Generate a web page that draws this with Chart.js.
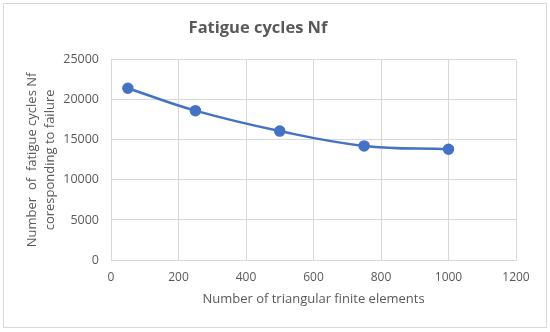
<!DOCTYPE html>
<html>
<head>
<meta charset="utf-8">
<script src="https://cdn.jsdelivr.net/npm/chart.js@4/dist/chart.umd.min.js"></script>
<style>
  html, body { margin: 0; padding: 0; background: #fff; }
</style>
</head>
<body>
<canvas id="fatigueChart" width="550" height="332"></canvas>
<script>
// datos
const elementos = [50, 250, 500, 750, 1000];
const ciclos = [21450, 18650, 16100, 14250, 13830];
const xTicks = [0, 200, 400, 600, 800, 1000, 1200];
const yTicks = [0, 5000, 10000, 15000, 20000, 25000];

const gris = '#595959';
const fuente = "'Open Sans', 'Noto Sans', sans-serif";

// marco exterior del grafico
const marco = {
  id: 'marco',
  beforeDraw(chart) {
    const ctx = chart.ctx;
    ctx.save();
    ctx.fillStyle = '#fff';
    ctx.fillRect(0, 0, chart.width, chart.height);
    ctx.strokeStyle = '#d9d9d9';
    ctx.lineWidth = 1;
    ctx.strokeRect(3.5, 3.5, 543, 324);
    ctx.restore();
  }
};

new Chart(document.getElementById('fatigueChart'), {
  type: 'scatter',
  data: {
    datasets: [{
      label: 'Nf',
      data: elementos.map((x, i) => ({ x: x, y: ciclos[i] })),
      showLine: true,
      borderColor: '#4472C4',
      backgroundColor: '#4472C4',
      borderWidth: 2.5,
      pointRadius: 4.5,
      pointHoverRadius: 4.5,
      tension: 0.4
    }]
  },
  options: {
    responsive: false,
    animation: false,
    layout: { padding: { left: 0, right: 34, top: 0, bottom: 0 } },
    plugins: {
      legend: { display: false },
      tooltip: { enabled: false },
      title: {
        display: true,
        text: 'Fatigue cycles Nf',
        color: gris,
        font: { family: fuente, size: 16.5, weight: 'bold' },
        padding: { top: 18, bottom: 22 }
      }
    },
    scales: {
      x: {
        type: 'linear',
        min: 0,
        max: 1200,
        afterBuildTicks: axis => { axis.ticks = xTicks.map(v => ({ value: v })); },
        afterFit: axis => { axis.height = 72; },
        grid: { color: '#d9d9d9', drawTicks: false },
        border: { color: '#d9d9d9' },
        ticks: {
          color: gris, font: { family: fuente, size: 12 }, padding: 10,
          maxRotation: 0, autoSkip: false, callback: v => String(v)
        },
        title: {
          display: true,
          text: 'Number of triangular finite elements',
          color: gris,
          font: { family: fuente, size: 13 },
          padding: { top: 0, bottom: 25 }
        }
      },
      y: {
        type: 'linear',
        min: 0,
        max: 25000,
        afterBuildTicks: axis => { axis.ticks = yTicks.map(v => ({ value: v })); },
        afterFit: axis => { axis.width = 111; },
        grid: { color: '#d9d9d9', drawTicks: false },
        border: { display: false },
        ticks: {
          color: gris, font: { family: fuente, size: 12.5 }, padding: 12,
          autoSkip: false, callback: v => String(v)
        },
        title: {
          display: true,
          text: ['Number  of  fatigue cycles Nf', 'coresponding to failure'],
          color: gris,
          font: { family: fuente, size: 13, lineHeight: 1.4 },
          padding: { top: 23, bottom: 0 }
        }
      }
    }
  },
  plugins: [marco]
});
</script>
</body>
</html>
